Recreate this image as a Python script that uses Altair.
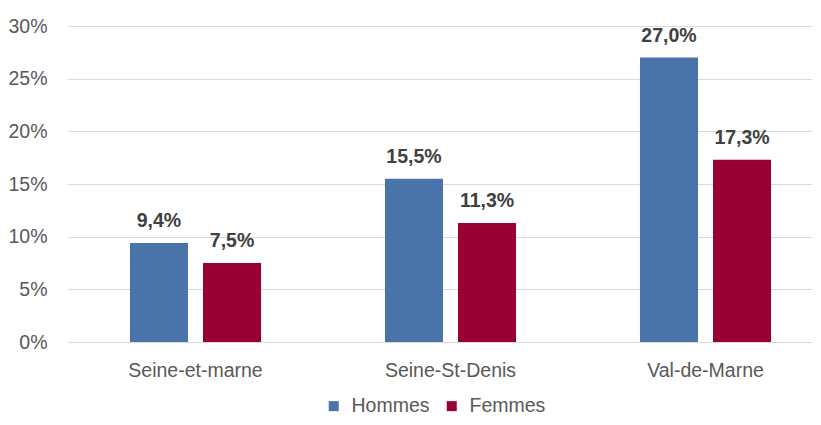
import altair as alt
import pandas as pd

categories = ["Seine-et-marne", "Seine-St-Denis", "Val-de-Marne"]
series = ["Hommes", "Femmes"]
hommes = [9.4, 15.5, 27.0]
femmes = [7.5, 11.3, 17.3]
colors = ["#4A73AA", "#990033"]

rows = []
for i, c in enumerate(categories):
    rows.append({"cat": c, "sexe": "Hommes", "val": hommes[i]})
    rows.append({"cat": c, "sexe": "Femmes", "val": femmes[i]})
df = pd.DataFrame(rows)
df["lab"] = df["val"].map(lambda v: f"{v:.1f}".replace(".", ",") + "%")

FONT = "Liberation Sans"
FS = 19.5

x_enc = alt.X(
    "cat:N",
    sort=categories,
    scale=alt.Scale(range=[0, 765], paddingInner=0.486, paddingOuter=0.243),
    axis=alt.Axis(
        title=None, labelAngle=0, domain=False, ticks=False, tickSize=0,
        labelPadding=19, labelFont=FONT, labelFontSize=FS, labelColor="#595959",
    ),
)
xo_enc = alt.XOffset(
    "sexe:N", sort=series,
    scale=alt.Scale(domain=series, paddingInner=0.2055, paddingOuter=0),
)
y_enc = alt.Y(
    "val:Q",
    scale=alt.Scale(domain=[0, 30], nice=False),
    axis=alt.Axis(
        title=None, values=[0, 5, 10, 15, 20, 25, 30], labelExpr="datum.value + '%'",
        domain=False, ticks=False, tickSize=0, labelPadding=21,
        labelFont=FONT, labelFontSize=FS, labelColor="#595959",
        grid=True, gridColor="#D9D9D9", gridWidth=1,
    ),
)

bars = alt.Chart(df).mark_bar().encode(
    x=x_enc,
    xOffset=xo_enc,
    y=y_enc,
    color=alt.Color(
        "sexe:N", sort=series,
        scale=alt.Scale(domain=series, range=colors),
        legend=alt.Legend(
            title=None, orient="none", direction="horizontal",
            legendX=256, legendY=370, symbolType="square", symbolSize=100,
            symbolStrokeWidth=0, labelOffset=8, columnPadding=12,
            labelFont=FONT, labelFontSize=FS, labelColor="#595959",
        ),
    ),
)

labels = alt.Chart(df).mark_text(
    dy=-16, baseline="alphabetic", font=FONT, fontSize=FS, fontWeight="bold",
    color="#404040",
).encode(
    x=alt.X("cat:N", sort=categories),
    xOffset=alt.XOffset("sexe:N", sort=series),
    y="val:Q",
    text="lab:N",
)

chart = (
    alt.layer(bars, labels)
    .properties(
        width=744, height=316,
        autosize=alt.AutoSizeParams(type="none"),
        padding={"left": 60, "top": 18, "right": 0, "bottom": 74},
        background="white",
    )
    .configure_view(stroke=None)
)

chart.save("out.html", embed_options={"renderer": "svg", "actions": False})
